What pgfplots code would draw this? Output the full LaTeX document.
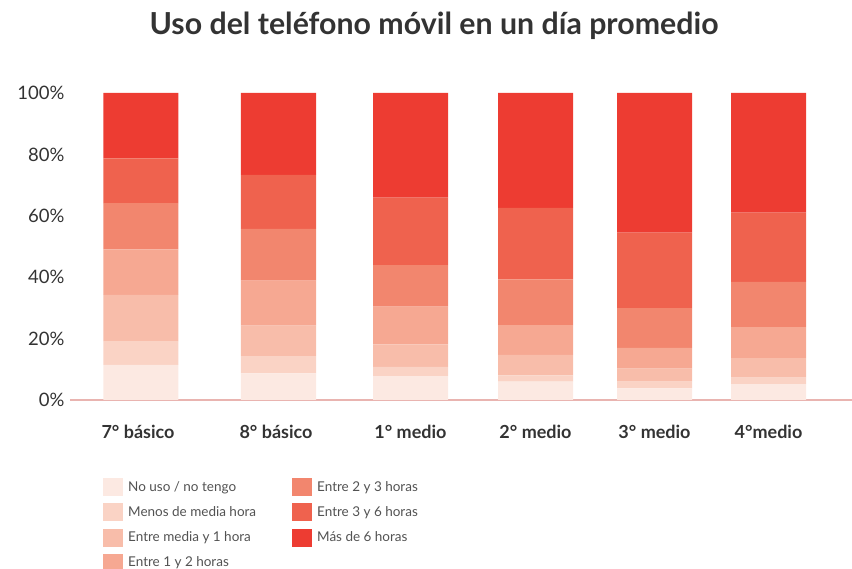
\documentclass[border=0pt]{standalone}
\usepackage{pgfplots}
\pgfplotsset{compat=1.18}
\usepackage{fontspec}
\setmainfont{Lato}
\definecolor{c1}{RGB}{252,233,226}
\definecolor{c2}{RGB}{250,211,197}
\definecolor{c3}{RGB}{248,189,170}
\definecolor{c4}{RGB}{246,168,146}
\definecolor{c5}{RGB}{242,134,110}
\definecolor{c6}{RGB}{239,98,78}
\definecolor{c7}{RGB}{237,60,50}
\definecolor{txt}{RGB}{51,51,51}
\definecolor{axl}{RGB}{233,180,176}
\begin{document}
\begin{tikzpicture}
\begin{axis}[
  scale only axis, width=782pt, height=307pt,
  xmin=70, xmax=852, ymin=0, ymax=100,
  ybar stacked, bar width=75,
  clip=false,
  axis x line=bottom, axis y line=left,
  x axis line style={axl, line width=1.2pt, -},
  y axis line style={draw=none},
  major tick length=0pt,
  xtick={138,276,410.5,535.5,654.5,768.5},
  xticklabels={7° básico, 8° básico, 1° medio, 2° medio, 3° medio, 4°medio},
  xticklabel style={font=\fontsize{18}{20}\selectfont\bfseries, text=txt, yshift=-22pt},
  ytick={0,20,40,60,80,100},
  yticklabels={0\%,20\%,40\%,60\%,80\%,100\%},
  yticklabel style={font=\fontsize{18.5}{20}\selectfont, text=txt, xshift=-2pt},
  legend style={draw=none, fill=none, inner sep=0pt,
    at={(axis cs:103,-25.4)}, anchor=north west,
    font=\fontsize{13.5}{15}\selectfont, text=txt!85,
    row sep=7.2pt,
    nodes={inner xsep=5pt},
    /tikz/every even column/.append style={column sep=31pt}},
  legend cell align=left,
  transpose legend, legend columns=4,
  legend image code/.code={\fill[#1,draw=none] (0pt,-9pt) rectangle (20pt,9pt);},
]
\addplot[fill=c1, draw=none] coordinates {(141,11.4) (278.5,8.7) (410.5,7.8) (535.5,6.0) (654.5,3.8) (768.5,5.2)};
\addplot[fill=c2, draw=none] coordinates {(141,7.8) (278.5,5.6) (410.5,3.0) (535.5,2.0) (654.5,2.2) (768.5,2.1)};
\addplot[fill=c3, draw=none] coordinates {(141,15.0) (278.5,9.9) (410.5,7.3) (535.5,6.7) (654.5,4.2) (768.5,6.3)};
\addplot[fill=c4, draw=none] coordinates {(141,14.9) (278.5,14.7) (410.5,12.3) (535.5,9.7) (654.5,6.8) (768.5,10.1)};
\addplot[fill=c5, draw=none] coordinates {(141,15.0) (278.5,16.8) (410.5,13.5) (535.5,14.9) (654.5,12.9) (768.5,14.8)};
\addplot[fill=c6, draw=none] coordinates {(141,14.6) (278.5,17.6) (410.5,22.0) (535.5,23.3) (654.5,24.6) (768.5,22.5)};
\addplot[fill=c7, draw=none] coordinates {(141,21.3) (278.5,26.7) (410.5,34.1) (535.5,37.4) (654.5,45.5) (768.5,39.0)};
\legend{No uso / no tengo, Menos de media hora, Entre media y 1 hora, Entre 1 y 2 horas, Entre 2 y 3 horas, Entre 3 y 6 horas, Más de 6 horas}
\node[anchor=base, font=\fontsize{30.3}{33}\selectfont\bfseries, text=txt] at (axis cs:434,119.0) {Uso del teléfono móvil en un día promedio};
\coordinate (bl) at (axis cs:0,-55.05);
\coordinate (tr) at (axis cs:852,130.29);
\end{axis}
\pgfresetboundingbox
\path (bl) rectangle (tr);
\end{tikzpicture}
\end{document}
